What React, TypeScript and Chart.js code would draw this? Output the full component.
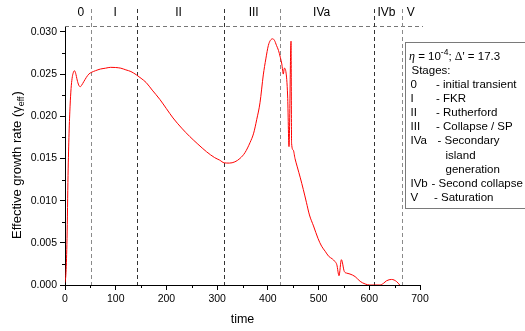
import { useEffect, useRef } from 'react';
import { Chart, registerables } from 'chart.js';

Chart.register(...registerables);

// ---- data ----
const timeValues = [
  0, 2, 4, 6, 8, 10, 12, 14, 16, 18.5, 21, 24, 27, 30, 33, 37, 42, 47, 52, 60, 70, 80, 90, 100, 110, 120, 130,
  141, 150, 160, 172, 187, 200, 213, 230, 246, 262, 279, 295, 305, 314, 324, 335, 345, 355, 365, 372, 378,
  384.5, 391, 396, 401, 405, 409.5, 413, 417, 421, 424.5, 427.5, 430.5, 432.5, 435.5, 439, 441.7, 445.7,
  446.8, 450, 453.5, 458, 464, 470, 476, 482, 490, 499, 506, 513, 520, 527, 532, 536, 540.3, 545, 550.8,
  556, 562, 572, 582, 592, 601, 621, 628, 634, 644, 654, 660,
];
const growthRate = [
  0.0003, 0.0015, 0.0055, 0.013, 0.018, 0.0212, 0.0233, 0.0245, 0.0251, 0.0254, 0.0251, 0.0243, 0.0237,
  0.0235, 0.0237, 0.0241, 0.0246, 0.025, 0.0252, 0.0254, 0.0256, 0.0257, 0.0258, 0.02578, 0.0257, 0.0255,
  0.0253, 0.0249, 0.0245, 0.024, 0.0231, 0.022, 0.0209, 0.0198, 0.0186, 0.0176, 0.0167, 0.0158, 0.0151,
  0.0148, 0.01448, 0.01445, 0.0146, 0.015, 0.0157, 0.0169, 0.018, 0.0196, 0.0216, 0.0249, 0.0268, 0.0284,
  0.029, 0.02918, 0.029, 0.0284, 0.0278, 0.027, 0.0262, 0.025, 0.0257, 0.0253, 0.0224, 0.0164, 0.0289,
  0.0168, 0.016, 0.015, 0.014, 0.0127, 0.0113, 0.0098, 0.0083, 0.007, 0.0055, 0.0046, 0.004, 0.0034,
  0.0031, 0.0028, 0.0024, 0.0011, 0.003, 0.0016, 0.0014, 0.0013, 0.001, 0.00043, 0.00012, 0, 0, 0.0002,
  0.0005, 0.00066, 0.0004, 0,
];
const stageBoundaries = [51, 141, 314, 424, 610, 665];
const stageNames = ['0', 'I', 'II', 'III', 'IVa', 'IVb', 'V'];
const stageLabelTimes = [31, 99, 224, 372, 506, 634, 682];
const xTicks = [0, 100, 200, 300, 400, 500, 600, 700];
const xMinorTicks = [50, 150, 250, 350, 450, 550, 650];
const yTicks = [0, 0.005, 0.01, 0.015, 0.02, 0.025, 0.03];
const yMinorTicks = [0.0025, 0.0075, 0.0125, 0.0175, 0.0225, 0.0275];
const legendStages = ['0', 'I', 'II', 'III', 'IVa', '', '', 'IVb', 'V'];
const legendDescriptions = [
  '- initial transient', '- FKR', '- Rutherford', '- Collapse / SP', '- Secondary',
  'island', 'generation', '- Second collapse', '- Saturation',
];
const xTitle = 'time';
const yTitleMain = 'Effective growth rate (';

// ---- styles ----
const boundaryColors = ['#8a8a8a', '#333333', '#333333', '#8a8a8a', '#333333', '#8a8a8a'];
const SANS = '"Liberation Sans", Arial, sans-serif';
const SERIF = '"Liberation Serif", "DejaVu Serif", serif';
const descX = [436, 436, 436, 436, 437.5, 445.5, 445.5, 431.5, 434];

const overlayPlugin = {
  id: 'overlay',
  beforeDatasetsDraw(chart: any) {
    const { ctx, chartArea, scales } = chart;
    const xs = scales.x;
    ctx.save();
    ctx.lineWidth = 1;
    ctx.setLineDash([4, 3]);
    // top dashed border
    ctx.strokeStyle = '#777777';
    ctx.beginPath();
    ctx.moveTo(chartArea.left, Math.round(chartArea.top) + 0.5);
    ctx.lineTo(chartArea.right + 3, Math.round(chartArea.top) + 0.5);
    ctx.stroke();
    stageBoundaries.forEach((t, i) => {
      const px = Math.round(xs.getPixelForValue(t)) + 0.5;
      ctx.strokeStyle = boundaryColors[i];
      ctx.beginPath();
      ctx.moveTo(px, 9);
      ctx.lineTo(px, chartArea.bottom);
      ctx.stroke();
    });
    ctx.restore();
  },
  afterDraw(chart: any) {
    const { ctx, chartArea, scales } = chart;
    const xs = scales.x;
    const ys = scales.y;
    ctx.save();
    // minor ticks
    ctx.strokeStyle = '#000';
    ctx.lineWidth = 1;
    ctx.beginPath();
    xMinorTicks.forEach((t) => {
      const px = Math.round(xs.getPixelForValue(t)) + 0.5;
      ctx.moveTo(px, chartArea.bottom);
      ctx.lineTo(px, chartArea.bottom + 3);
    });
    yMinorTicks.forEach((v) => {
      const py = Math.round(ys.getPixelForValue(v)) + 0.5;
      ctx.moveTo(chartArea.left, py);
      ctx.lineTo(chartArea.left - 3, py);
    });
    ctx.stroke();

    ctx.fillStyle = '#000';
    // stage labels
    ctx.font = `12px ${SANS}`;
    ctx.textAlign = 'center';
    ctx.textBaseline = 'alphabetic';
    stageNames.forEach((n, i) => {
      ctx.fillText(n, xs.getPixelForValue(stageLabelTimes[i]), 15.5);
    });

    // x title
    ctx.font = `12.5px ${SANS}`;
    ctx.fillText(xTitle, (chartArea.left + chartArea.right) / 2, 322.5);

    // y title with subscript
    ctx.save();
    ctx.translate(21, 165);
    ctx.rotate(-Math.PI / 2);
    ctx.textAlign = 'left';
    const mainFont = `13px ${SANS}`;
    const subFont = `9px ${SANS}`;
    ctx.font = mainFont;
    const w1 = ctx.measureText(yTitleMain).width;
    const wg = ctx.measureText('γ').width;
    const wp = ctx.measureText(')').width;
    ctx.font = subFont;
    const ws = ctx.measureText('eff').width;
    const total = w1 + wg + ws + wp + 1;
    let cx = -total / 2;
    ctx.font = mainFont;
    ctx.fillText(yTitleMain, cx, 0);
    cx += w1;
    ctx.fillText('γ', cx, 0);
    cx += wg;
    ctx.font = subFont;
    ctx.fillText('eff', cx, 3);
    cx += ws + 1;
    ctx.font = mainFont;
    ctx.fillText(')', cx, 0);
    ctx.restore();

    // legend box
    ctx.strokeStyle = '#7a7a7a';
    ctx.lineWidth = 1;
    ctx.strokeRect(405.5, 42.5, 130, 166);
    ctx.textAlign = 'left';
    const fs = 11.5;
    let x = 409;
    const y0 = 59.8;
    const step = 14.1;
    ctx.font = `italic 12px ${SERIF}`;
    ctx.fillText('η', x, y0);
    x += ctx.measureText('η').width;
    ctx.font = `${fs}px ${SANS}`;
    ctx.fillText(' = 10', x, y0);
    x += ctx.measureText(' = 10').width;
    ctx.font = `8.5px ${SANS}`;
    ctx.fillText('-4', x, y0 - 4.5);
    x += ctx.measureText('-4').width;
    ctx.font = `${fs}px ${SANS}`;
    ctx.fillText('; ', x, y0);
    x += ctx.measureText('; ').width;
    ctx.font = `12px ${SERIF}`;
    ctx.fillText('Δ\'', x, y0);
    x += ctx.measureText('Δ\'').width;
    ctx.font = `${fs}px ${SANS}`;
    ctx.fillText(' = 17.3', x, y0);
    ctx.fillText('Stages:', 411.5, y0 + step);
    legendStages.forEach((s, i) => {
      const yy = y0 + step * (i + 2);
      if (s) ctx.fillText(s, 410.5, yy);
      ctx.fillText(legendDescriptions[i], descX[i], yy);
    });
    ctx.restore();
  },
};

export default function App() {
  const canvasRef = useRef<HTMLCanvasElement | null>(null);
  useEffect(() => {
    if (!canvasRef.current) return;
    const chart = new Chart(canvasRef.current, {
      type: 'line',
      data: {
        datasets: [
          {
            data: timeValues.map((t, i) => ({ x: t, y: growthRate[i] })),
            borderColor: '#ff0000',
            borderWidth: 1,
            pointRadius: 0,
            fill: false,
            cubicInterpolationMode: 'monotone',
          },
        ],
      },
      options: {
        animation: false,
        responsive: false,
        events: [],
        layout: { padding: { left: 20, top: 26, right: 105, bottom: 16 } },
        plugins: { legend: { display: false }, tooltip: { enabled: false } },
        scales: {
          x: {
            type: 'linear',
            min: 0,
            max: 700,
            afterBuildTicks: (s: any) => {
              s.ticks = xTicks.map((v) => ({ value: v }));
            },
            afterFit: (s: any) => {
              s.height = 30;
            },
            ticks: {
              color: '#000',
              font: { family: SANS, size: 10.5 },
              padding: 3,
              maxRotation: 0,
              autoSkip: false,
            },
            grid: { drawOnChartArea: false, tickLength: 5, tickColor: '#000', lineWidth: 1 },
            border: { color: '#000', width: 1 },
          },
          y: {
            type: 'linear',
            min: 0,
            max: 0.0307,
            afterBuildTicks: (s: any) => {
              s.ticks = yTicks.map((v) => ({ value: v }));
            },
            afterFit: (s: any) => {
              s.width = 45;
            },
            ticks: {
              color: '#000',
              font: { family: SANS, size: 10.5 },
              padding: 3,
              callback: (v: any) => Number(v).toFixed(3),
            },
            grid: { drawOnChartArea: false, tickLength: 5, tickColor: '#000', lineWidth: 1 },
            border: { color: '#000', width: 1 },
          },
        },
      },
      plugins: [overlayPlugin],
    } as any);
    return () => chart.destroy();
  }, []);
  return (
    <div style={{ position: 'fixed', left: 0, top: 0, width: 525, height: 331, background: '#fff' }}>
      <canvas ref={canvasRef} width={525} height={331} style={{ display: 'block' }} />
    </div>
  );
}
